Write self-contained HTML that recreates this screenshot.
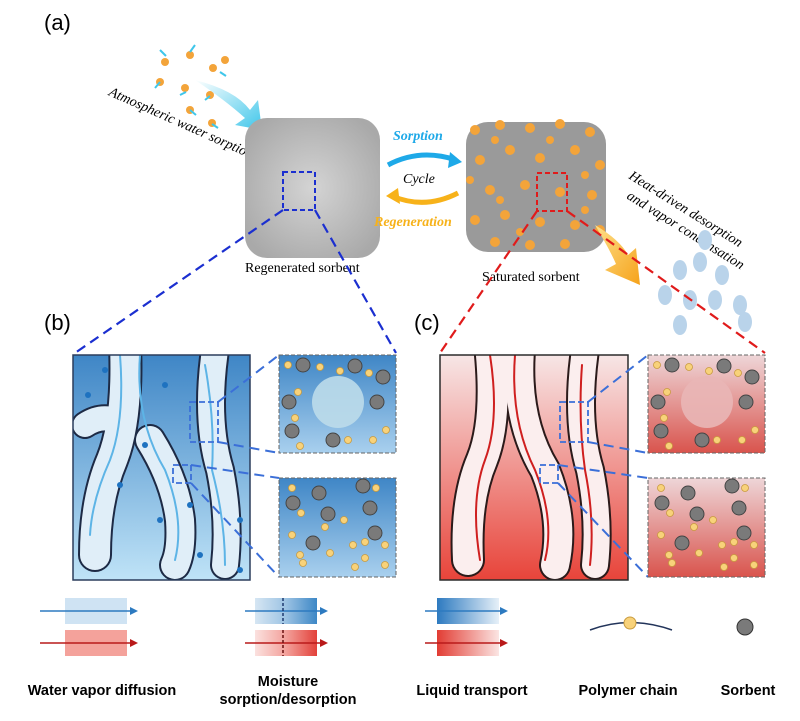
<!DOCTYPE html>
<html><head><meta charset="utf-8"><style>
body{margin:0;background:#fff;}
svg{display:block;font-family:"Liberation Sans",Arial,sans-serif;}
</style></head><body>
<svg width="800" height="721" viewBox="0 0 800 721" xmlns="http://www.w3.org/2000/svg">
<defs>
<linearGradient id="gb" x1="0" y1="0" x2="0" y2="1"><stop offset="0" stop-color="#3f86c6"/><stop offset="1" stop-color="#bfe3f7"/></linearGradient>
<linearGradient id="gr" x1="0" y1="0" x2="0" y2="1"><stop offset="0" stop-color="#f7e6e6"/><stop offset="1" stop-color="#e8443a"/></linearGradient>
<linearGradient id="gbi" x1="0" y1="0" x2="0" y2="1"><stop offset="0" stop-color="#3f86c6"/><stop offset="1" stop-color="#a9d0ee"/></linearGradient>
<linearGradient id="gri" x1="0" y1="0" x2="0" y2="1"><stop offset="0" stop-color="#eed6d8"/><stop offset="1" stop-color="#d9544d"/></linearGradient>
<radialGradient id="cube" cx="0.5" cy="0.5" r="0.6"><stop offset="0" stop-color="#d4d4d4"/><stop offset="1" stop-color="#a9a9a9"/></radialGradient>
<linearGradient id="lb3" x1="0" x2="1"><stop offset="0" stop-color="#2d7ac0"/><stop offset="1" stop-color="#e6f0f8"/></linearGradient>
<linearGradient id="lr3" x1="0" x2="1"><stop offset="0" stop-color="#e23c33"/><stop offset="1" stop-color="#fbe5e3"/></linearGradient>
<linearGradient id="lb2" x1="0" x2="1"><stop offset="0" stop-color="#d6e6f3"/><stop offset="0.5" stop-color="#9cc3e3"/><stop offset="1" stop-color="#3d87c6"/></linearGradient>
<linearGradient id="lr2" x1="0" x2="1"><stop offset="0" stop-color="#fbe1df"/><stop offset="0.5" stop-color="#f3a19b"/><stop offset="1" stop-color="#e2413a"/></linearGradient>
<linearGradient id="yarr" x1="0" y1="0" x2="1" y2="1"><stop offset="0" stop-color="#fde08a"/><stop offset="1" stop-color="#f6a21a"/></linearGradient>
<linearGradient id="carr" x1="0" y1="0" x2="1" y2="1"><stop offset="0" stop-color="#ffffff"/><stop offset="1" stop-color="#3fc6ea"/></linearGradient>
<clipPath id="cb"><rect x="73" y="355" width="177" height="225"/></clipPath>
<clipPath id="cc"><rect x="440" y="355" width="188" height="225"/></clipPath>
</defs>

<text x="44" y="30" font-size="22">(a)</text>
<text x="44" y="330" font-size="22">(b)</text>
<text x="414" y="330" font-size="22">(c)</text>

<g fill="#f3a43a">
<circle cx="165" cy="62" r="4"/><circle cx="190" cy="55" r="4"/><circle cx="213" cy="68" r="4"/><circle cx="160" cy="82" r="4"/><circle cx="185" cy="88" r="4"/><circle cx="210" cy="95" r="4"/><circle cx="190" cy="110" r="4"/><circle cx="212" cy="123" r="4"/><circle cx="225" cy="60" r="4"/>
</g>
<g stroke="#3fc6ea" stroke-width="2"><line x1="160" y1="50" x2="166" y2="56"/><line x1="195" y1="45" x2="190" y2="52"/><line x1="220" y1="72" x2="226" y2="76"/><line x1="155" y1="88" x2="160" y2="82"/><line x1="180" y1="95" x2="186" y2="92"/><line x1="205" y1="100" x2="210" y2="96"/><line x1="196" y1="115" x2="190" y2="110"/><line x1="218" y1="128" x2="212" y2="124"/></g>
<path d="M195 80 Q235 90 250 110 L258 100 L262 130 L235 125 L245 118 Q225 100 195 80Z" fill="url(#carr)"/>
<text transform="translate(108,95) rotate(24)" font-family="Liberation Serif,serif" font-style="italic" font-size="14">Atmospheric water sorption</text>

<rect x="245" y="118" width="135" height="140" rx="22" fill="url(#cube)"/>
<rect x="283" y="172" width="32" height="38" fill="none" stroke="#1b2fd0" stroke-width="2" stroke-dasharray="5,3"/>
<text x="245" y="272" font-family="Liberation Serif,serif" font-size="14">Regenerated sorbent</text>
<rect x="466" y="122" width="140" height="130" rx="22" fill="#9a9a9a"/>
<g fill="#f3a43a">
<circle cx="475" cy="130" r="5"/><circle cx="500" cy="125" r="5"/><circle cx="530" cy="128" r="5"/><circle cx="560" cy="124" r="5"/><circle cx="590" cy="132" r="5"/><circle cx="480" cy="160" r="5"/><circle cx="510" cy="150" r="5"/><circle cx="540" cy="158" r="5"/><circle cx="575" cy="150" r="5"/><circle cx="600" cy="165" r="5"/><circle cx="490" cy="190" r="5"/><circle cx="525" cy="185" r="5"/><circle cx="560" cy="192" r="5"/><circle cx="592" cy="195" r="5"/><circle cx="475" cy="220" r="5"/><circle cx="505" cy="215" r="5"/><circle cx="540" cy="222" r="5"/><circle cx="575" cy="225" r="5"/><circle cx="600" cy="230" r="5"/><circle cx="495" cy="242" r="5"/><circle cx="530" cy="245" r="5"/><circle cx="565" cy="244" r="5"/>
<circle cx="495" cy="140" r="4"/><circle cx="550" cy="140" r="4"/><circle cx="585" cy="175" r="4"/><circle cx="500" cy="200" r="4"/><circle cx="520" cy="232" r="4"/><circle cx="585" cy="210" r="4"/><circle cx="470" cy="180" r="4"/>
</g>
<rect x="537" y="173" width="30" height="38" fill="none" stroke="#e01b1b" stroke-width="2" stroke-dasharray="5,3"/>
<text x="482" y="281" font-family="Liberation Serif,serif" font-size="14">Saturated sorbent</text>

<path d="M388 165 Q420 148 456 160" fill="none" stroke="#1ea9e8" stroke-width="5"/>
<path d="M450 152 L462 162 L448 168Z" fill="#1ea9e8"/>
<path d="M458 193 Q425 210 392 196" fill="none" stroke="#f7b21a" stroke-width="5"/>
<path d="M398 188 L386 196 L400 204Z" fill="#f7b21a"/>
<text x="393" y="140" fill="#1ea9e8" font-weight="bold" font-style="italic" font-size="14" font-family="Liberation Serif,serif">Sorption</text>
<text x="403" y="183" font-style="italic" font-size="14" font-family="Liberation Serif,serif">Cycle</text>
<text x="374" y="226" fill="#f7b21a" font-weight="bold" font-style="italic" font-size="14" font-family="Liberation Serif,serif">Regeneration</text>

<path d="M595 225 Q620 240 628 255 L636 248 L640 285 L605 270 L616 264 Q610 250 595 225Z" fill="url(#yarr)"/>
<text transform="translate(628,178) rotate(32)" font-family="Liberation Serif,serif" font-style="italic" font-size="14">Heat-driven desorption</text>
<text transform="translate(626,198) rotate(32)" font-family="Liberation Serif,serif" font-style="italic" font-size="14">and vapor condensation</text>
<g fill="#b9d3ea">
<ellipse cx="680" cy="270" rx="7" ry="10"/><ellipse cx="700" cy="262" rx="7" ry="10"/><ellipse cx="722" cy="275" rx="7" ry="10"/><ellipse cx="665" cy="295" rx="7" ry="10"/><ellipse cx="690" cy="300" rx="7" ry="10"/><ellipse cx="715" cy="300" rx="7" ry="10"/><ellipse cx="740" cy="305" rx="7" ry="10"/><ellipse cx="680" cy="325" rx="7" ry="10"/><ellipse cx="745" cy="322" rx="7" ry="10"/><ellipse cx="705" cy="240" rx="7" ry="10"/>
</g>

<g fill="none" stroke-width="2.2" stroke-dasharray="10,6">
<line x1="283" y1="210" x2="75" y2="353" stroke="#1b2fd0"/>
<line x1="315" y1="210" x2="396" y2="353" stroke="#1b2fd0"/>
<line x1="537" y1="211" x2="440" y2="353" stroke="#e01b1b"/>
<line x1="567" y1="211" x2="765" y2="353" stroke="#e01b1b"/>
</g>

<!-- panel b -->
<rect x="73" y="355" width="177" height="225" fill="url(#gb)"/>
<g clip-path="url(#cb)" fill="none" stroke-linecap="round" stroke-linejoin="round">
<g stroke="#1d2a45">
<path d="M125 345 Q128 420 112 460 Q95 500 95 555" stroke-width="34"/>
<path d="M150 440 Q175 480 180 520 Q182 550 175 565" stroke-width="32"/>
<path d="M85 425 Q100 415 115 420" stroke-width="28"/>
<path d="M215 350 Q205 420 220 470 Q230 520 225 565" stroke-width="30"/>
</g>
<g stroke="#e0eef8">
<path d="M125 345 Q128 420 112 460 Q95 500 95 555" stroke-width="30"/>
<path d="M150 440 Q175 480 180 520 Q182 550 175 565" stroke-width="28"/>
<path d="M85 425 Q100 415 115 420" stroke-width="24"/>
<path d="M215 350 Q205 420 220 470 Q230 520 225 565" stroke-width="26"/>
</g>
<g stroke="#5db4e6" stroke-width="2">
<path d="M120 355 Q125 420 110 460 Q92 500 90 535"/>
<path d="M140 355 Q135 420 165 470 Q185 520 175 560"/>
<path d="M205 365 Q215 420 212 470 Q225 520 225 565"/>
</g>
</g>
<rect x="73" y="355" width="177" height="225" fill="none" stroke="#2b3d5c" stroke-width="1.5"/>
<g fill="#1e72c0"><circle cx="105" cy="370" r="3"/><circle cx="165" cy="385" r="3"/><circle cx="88" cy="395" r="3"/><circle cx="145" cy="445" r="3"/><circle cx="120" cy="485" r="3"/><circle cx="160" cy="520" r="3"/><circle cx="190" cy="505" r="3"/><circle cx="240" cy="520" r="3"/><circle cx="200" cy="555" r="3"/><circle cx="240" cy="570" r="3"/></g>
<rect x="190" y="402" width="28" height="40" fill="none" stroke="#3b6fd8" stroke-width="1.8" stroke-dasharray="6,3"/>
<rect x="173" y="465" width="18" height="18" fill="none" stroke="#3b6fd8" stroke-width="1.8" stroke-dasharray="6,3"/>
<g stroke="#3b6fd8" stroke-width="2" stroke-dasharray="10,6">
<line x1="218" y1="402" x2="279" y2="355"/><line x1="218" y1="442" x2="279" y2="453"/>
<line x1="191" y1="465" x2="279" y2="478"/><line x1="191" y1="483" x2="279" y2="577"/>
</g>
<rect x="279" y="355" width="117" height="98" fill="url(#gbi)" stroke="#666" stroke-dasharray="4,2"/>
<circle cx="338" cy="402" r="26" fill="#bcdcea" opacity="0.9"/>
<rect x="279" y="478" width="117" height="99" fill="url(#gbi)" stroke="#666" stroke-dasharray="4,2"/>

<!-- panel c -->
<rect x="440" y="355" width="188" height="225" fill="url(#gr)"/>
<g clip-path="url(#cc)" fill="none" stroke-linecap="round" stroke-linejoin="round">
<g stroke="#2b1a1a">
<path d="M490 345 Q498 420 482 460 Q465 500 468 560" stroke-width="34"/>
<path d="M520 350 Q515 420 545 470 Q565 520 555 565" stroke-width="32"/>
<path d="M585 350 Q575 420 590 470 Q600 520 595 565" stroke-width="30"/>
</g>
<g stroke="#fbeeee">
<path d="M490 345 Q498 420 482 460 Q465 500 468 560" stroke-width="30"/>
<path d="M520 350 Q515 420 545 470 Q565 520 555 565" stroke-width="28"/>
<path d="M585 350 Q575 420 590 470 Q600 520 595 565" stroke-width="26"/>
</g>
<g stroke="#cf1f1f" stroke-width="2">
<path d="M480 560 Q470 500 485 460 Q500 420 490 355"/>
<path d="M545 560 Q555 520 535 470 Q510 420 515 355"/>
<path d="M590 565 Q595 520 585 470 Q578 420 582 365"/>
</g>
</g>
<rect x="440" y="355" width="188" height="225" fill="none" stroke="#2b2b2b" stroke-width="1.5"/>
<rect x="560" y="402" width="28" height="40" fill="none" stroke="#3b6fd8" stroke-width="1.8" stroke-dasharray="6,3"/>
<rect x="540" y="465" width="18" height="18" fill="none" stroke="#3b6fd8" stroke-width="1.8" stroke-dasharray="6,3"/>
<g stroke="#3b6fd8" stroke-width="2" stroke-dasharray="10,6">
<line x1="588" y1="402" x2="648" y2="355"/><line x1="588" y1="442" x2="648" y2="453"/>
<line x1="558" y1="465" x2="648" y2="478"/><line x1="558" y1="483" x2="648" y2="577"/>
</g>
<rect x="648" y="355" width="117" height="98" fill="url(#gri)" stroke="#666" stroke-dasharray="4,2"/>
<circle cx="707" cy="402" r="26" fill="#e9b6b6" opacity="0.9"/>
<rect x="648" y="478" width="117" height="99" fill="url(#gri)" stroke="#666" stroke-dasharray="4,2"/>

<g fill="#7a7a7a" stroke="#444">
<circle cx="303" cy="365" r="7"/><circle cx="355" cy="366" r="7"/><circle cx="383" cy="377" r="7"/><circle cx="289" cy="402" r="7"/><circle cx="377" cy="402" r="7"/><circle cx="292" cy="431" r="7"/><circle cx="333" cy="440" r="7"/>
<circle cx="363" cy="486" r="7"/><circle cx="319" cy="493" r="7"/><circle cx="293" cy="503" r="7"/><circle cx="328" cy="514" r="7"/><circle cx="370" cy="508" r="7"/><circle cx="375" cy="533" r="7"/><circle cx="313" cy="543" r="7"/>
<circle cx="672" cy="365" r="7"/><circle cx="724" cy="366" r="7"/><circle cx="752" cy="377" r="7"/><circle cx="658" cy="402" r="7"/><circle cx="746" cy="402" r="7"/><circle cx="661" cy="431" r="7"/><circle cx="702" cy="440" r="7"/>
<circle cx="732" cy="486" r="7"/><circle cx="688" cy="493" r="7"/><circle cx="662" cy="503" r="7"/><circle cx="697" cy="514" r="7"/><circle cx="739" cy="508" r="7"/><circle cx="744" cy="533" r="7"/><circle cx="682" cy="543" r="7"/>
</g>
<g fill="#f8d27a" stroke="#c99b3e" stroke-width="0.8">
<circle cx="288" cy="365" r="3.5"/><circle cx="320" cy="367" r="3.5"/><circle cx="340" cy="371" r="3.5"/><circle cx="369" cy="373" r="3.5"/><circle cx="298" cy="392" r="3.5"/><circle cx="295" cy="418" r="3.5"/><circle cx="386" cy="430" r="3.5"/><circle cx="300" cy="446" r="3.5"/><circle cx="348" cy="440" r="3.5"/><circle cx="373" cy="440" r="3.5"/>
<circle cx="292" cy="488" r="3.5"/><circle cx="376" cy="488" r="3.5"/><circle cx="301" cy="513" r="3.5"/><circle cx="344" cy="520" r="3.5"/><circle cx="325" cy="527" r="3.5"/><circle cx="292" cy="535" r="3.5"/><circle cx="353" cy="545" r="3.5"/><circle cx="365" cy="542" r="3.5"/><circle cx="385" cy="545" r="3.5"/><circle cx="300" cy="555" r="3.5"/><circle cx="330" cy="553" r="3.5"/><circle cx="365" cy="558" r="3.5"/><circle cx="303" cy="563" r="3.5"/><circle cx="355" cy="567" r="3.5"/><circle cx="385" cy="565" r="3.5"/>
<circle cx="657" cy="365" r="3.5"/><circle cx="689" cy="367" r="3.5"/><circle cx="709" cy="371" r="3.5"/><circle cx="738" cy="373" r="3.5"/><circle cx="667" cy="392" r="3.5"/><circle cx="664" cy="418" r="3.5"/><circle cx="755" cy="430" r="3.5"/><circle cx="669" cy="446" r="3.5"/><circle cx="717" cy="440" r="3.5"/><circle cx="742" cy="440" r="3.5"/>
<circle cx="661" cy="488" r="3.5"/><circle cx="745" cy="488" r="3.5"/><circle cx="670" cy="513" r="3.5"/><circle cx="713" cy="520" r="3.5"/><circle cx="694" cy="527" r="3.5"/><circle cx="661" cy="535" r="3.5"/><circle cx="722" cy="545" r="3.5"/><circle cx="734" cy="542" r="3.5"/><circle cx="754" cy="545" r="3.5"/><circle cx="669" cy="555" r="3.5"/><circle cx="699" cy="553" r="3.5"/><circle cx="734" cy="558" r="3.5"/><circle cx="672" cy="563" r="3.5"/><circle cx="724" cy="567" r="3.5"/><circle cx="754" cy="565" r="3.5"/>
</g>

<rect x="65" y="598" width="62" height="26" fill="#cfe3f3"/>
<line x1="40" y1="611" x2="130" y2="611" stroke="#2d7ac0" stroke-width="1.5"/><path d="M130 607 L138 611 L130 615Z" fill="#2d7ac0"/>
<rect x="65" y="630" width="62" height="26" fill="#f4a29b"/>
<line x1="40" y1="643" x2="130" y2="643" stroke="#b91a1a" stroke-width="1.5"/><path d="M130 639 L138 643 L130 647Z" fill="#b91a1a"/>

<rect x="255" y="598" width="62" height="26" fill="url(#lb2)"/>
<line x1="245" y1="611" x2="320" y2="611" stroke="#2d7ac0" stroke-width="1.5"/><path d="M320 607 L328 611 L320 615Z" fill="#2d7ac0"/>
<line x1="283" y1="598" x2="283" y2="624" stroke="#1e3b70" stroke-width="1.5" stroke-dasharray="3,2"/>
<rect x="255" y="630" width="62" height="26" fill="url(#lr2)"/>
<line x1="245" y1="643" x2="320" y2="643" stroke="#b91a1a" stroke-width="1.5"/><path d="M320 639 L328 643 L320 647Z" fill="#b91a1a"/>
<line x1="283" y1="630" x2="283" y2="656" stroke="#6b1010" stroke-width="1.5" stroke-dasharray="3,2"/>

<rect x="437" y="598" width="62" height="26" fill="url(#lb3)"/>
<line x1="425" y1="611" x2="500" y2="611" stroke="#2d7ac0" stroke-width="1.5"/><path d="M500 607 L508 611 L500 615Z" fill="#2d7ac0"/>
<rect x="437" y="630" width="62" height="26" fill="url(#lr3)"/>
<line x1="425" y1="643" x2="500" y2="643" stroke="#b91a1a" stroke-width="1.5"/><path d="M500 639 L508 643 L500 647Z" fill="#b91a1a"/>

<path d="M590 630 Q630 615 672 630" fill="none" stroke="#22345a" stroke-width="1.5"/>
<circle cx="630" cy="623" r="6" fill="#f8d27a" stroke="#c99b3e"/>
<circle cx="745" cy="627" r="8" fill="#7a7a7a" stroke="#333"/>

<g font-weight="bold" font-size="14.5" text-anchor="middle">
<text x="102" y="695">Water vapor diffusion</text>
<text x="288" y="686">Moisture</text>
<text x="288" y="704">sorption/desorption</text>
<text x="472" y="695">Liquid transport</text>
<text x="628" y="695">Polymer chain</text>
<text x="748" y="695">Sorbent</text>
</g>
</svg>
</body></html>
